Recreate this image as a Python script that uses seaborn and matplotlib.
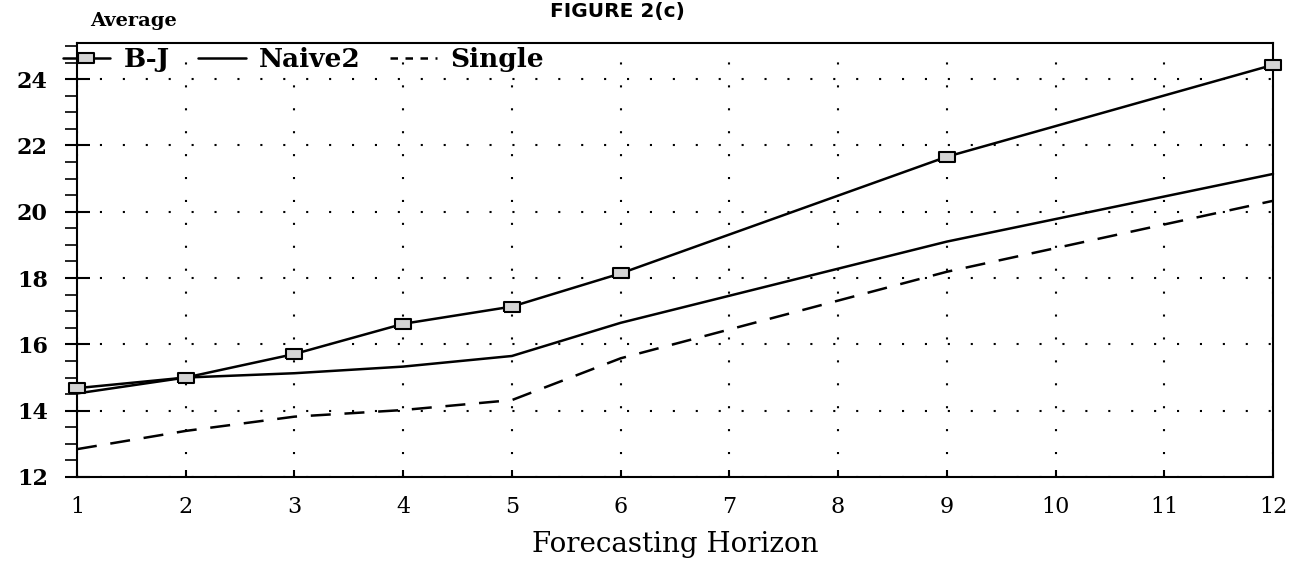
import matplotlib
matplotlib.use("Agg")
import matplotlib.pyplot as plt
from matplotlib.lines import Line2D
from matplotlib.ticker import MultipleLocator
import seaborn as sns
import pandas as pd

# ---- data ----
horizons = [1, 2, 3, 4, 5, 6, 9, 12]
bj = [14.68, 15.00, 15.71, 16.62, 17.14, 18.14, 21.66, 24.43]
naive2 = [14.52, 15.00, 15.13, 15.33, 15.65, 16.65, 19.10, 21.14]
single = [12.84, 13.39, 13.82, 14.02, 14.32, 15.58, 18.19, 20.33]
xticks = list(range(1, 13))
yticks = [12, 14, 16, 18, 20, 22, 24]

sns.set_theme(style="white")
plt.rcParams["font.family"] = ["DejaVu Serif", "DejaVu Sans"]

fig = plt.figure(figsize=(13.1, 5.62), dpi=100)
ax = fig.add_axes([77 / 1310, 1 - 477 / 562, 1196 / 1310, 434 / 562])

rect = [(-1, -0.6), (1, -0.6), (1, 0.6), (-1, 0.6), (-1, -0.6)]
lw = 1.8

df_bj = pd.DataFrame({"h": horizons, "v": bj})
df_nv = pd.DataFrame({"h": horizons, "v": naive2})
df_sg = pd.DataFrame({"h": horizons, "v": single})

sns.lineplot(data=df_sg, x="h", y="v", ax=ax, color="black", lw=lw,
             linestyle=(0, (8, 5.5)), legend=False, zorder=3, clip_on=False)
sns.lineplot(data=df_nv, x="h", y="v", ax=ax, color="black", lw=lw,
             legend=False, zorder=3, clip_on=False)
sns.lineplot(data=df_bj, x="h", y="v", ax=ax, color="black", lw=lw,
             marker=rect, markersize=12, markerfacecolor="#d4d4d4",
             markeredgecolor="black", markeredgewidth=1.5,
             legend=False, zorder=4, clip_on=False)

ax.set_xlim(1, 12)
ax.set_ylim(12, 25.09)
ax.set_xticks(xticks)
ax.set_xticklabels([str(t) for t in xticks])
ax.set_yticks(yticks)
ax.set_yticklabels([str(t) for t in yticks])
ax.yaxis.set_minor_locator(MultipleLocator(0.5))

ax.grid(True, which="major", color="black", linestyle=(0, (1, 10)), lw=1.5)

for s in ax.spines.values():
    s.set_visible(True)
    s.set_color("black")
    s.set_linewidth(1.5)

ax.tick_params(axis="y", which="major", direction="inout", length=18, width=1.5,
               color="black", pad=12, left=True, right=False)
ax.tick_params(axis="y", which="minor", direction="out", length=9, width=1.2,
               color="black", left=True, right=False)
ax.tick_params(axis="x", which="major", direction="in", length=5, width=1.5,
               color="black", pad=14, bottom=True)

for lab in ax.get_yticklabels():
    lab.set_fontsize(16)
    lab.set_fontweight("bold")
    lab.set_color("black")
for lab in ax.get_xticklabels():
    lab.set_fontsize(16)
    lab.set_color("black")

ax.set_xlabel("Forecasting Horizon", fontsize=20, color="black", labelpad=9)
ax.set_ylabel("")

fig.text(617 / 1310, 1 - 12 / 562, "FIGURE 2(c)", family="DejaVu Sans",
         fontweight="bold", fontsize=14.5, ha="center", va="center", color="black")
fig.text(134 / 1310, 1 - 21 / 562, "Average", fontweight="bold", fontsize=14,
         ha="center", va="center", color="black")

handles = [
    Line2D([], [], color="black", lw=lw, marker=rect, markersize=12,
           markerfacecolor="#d4d4d4", markeredgecolor="black", markeredgewidth=1.5),
    Line2D([], [], color="black", lw=lw),
    Line2D([], [], color="black", lw=lw, linestyle=(0, (3, 3))),
]
leg = ax.legend(handles, ["B-J", "Naive2", "Single"], loc="center left",
                bbox_to_anchor=(-0.012, 0.961), ncol=3, frameon=False,
                borderpad=0, borderaxespad=0, handlelength=1.8, handletextpad=0.5,
                columnspacing=1.1, prop={"family": "DejaVu Serif", "weight": "bold",
                                         "size": 19})
for t in leg.get_texts():
    t.set_color("black")

fig.savefig("out.png", dpi=100, facecolor="white")
